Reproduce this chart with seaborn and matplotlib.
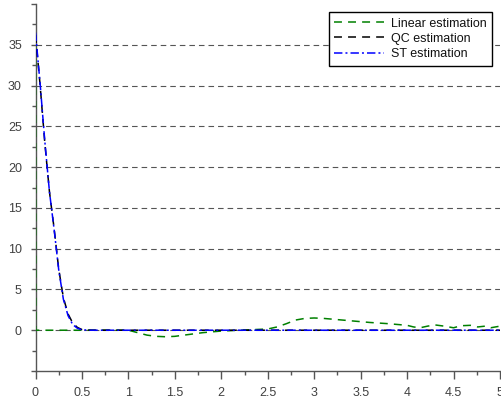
import matplotlib
matplotlib.use("Agg")
import matplotlib.pyplot as plt
import seaborn as sns
from matplotlib.ticker import MultipleLocator, FuncFormatter

sns.set_style("white")
plt.rcParams['font.family'] = ['Liberation Sans', 'DejaVu Sans']

# QC / ST estimation (fast decay)
qc_x = [0.0, 0.05, 0.1, 0.15, 0.2, 0.25, 0.3, 0.35, 0.4, 0.45, 0.5, 0.6, 1.0, 2.0, 3.0, 4.0, 5.0]
qc_y = [36.2, 30.0, 23.0, 17.0, 12.5, 7.5, 4.0, 2.0, 0.9, 0.35, 0.08, 0.0, 0.0, 0.0, 0.0, 0.0, 0.0]
st_x = [0.0, 0.05, 0.1, 0.15, 0.2, 0.25, 0.3, 0.35, 0.4, 0.45, 0.5, 0.6, 1.0, 2.0, 3.0, 4.0, 5.0]
st_y = [36.5, 30.2, 23.2, 17.0, 12.4, 7.4, 3.8, 1.8, 0.7, 0.25, 0.05, 0.0, 0.0, 0.0, 0.0, 0.0, 0.0]

# Linear estimation
lin_x = [0.0, 0.002, 0.5, 1.0, 1.1, 1.2, 1.3, 1.4, 1.5, 1.6, 1.7, 1.8, 1.9, 2.0, 2.2, 2.4,
         2.5, 2.6, 2.7, 2.8, 2.9, 3.0, 3.1, 3.2, 3.4, 3.6, 3.8, 4.0, 4.07, 4.14, 4.22, 4.3,
         4.4, 4.5, 4.58, 4.68, 4.76, 4.84, 4.9, 5.0]
lin_y = [35.0, 0.0, 0.0, 0.0, -0.3, -0.6, -0.75, -0.8, -0.75, -0.6, -0.45, -0.3, -0.2, -0.1, 0.0, 0.1,
         0.15, 0.4, 0.8, 1.25, 1.45, 1.5, 1.45, 1.35, 1.15, 0.95, 0.8, 0.6, 0.4, 0.3, 0.5, 0.65,
         0.5, 0.3, 0.55, 0.6, 0.4, 0.5, 0.3, 0.5]

fig = plt.figure(figsize=(5.02, 4.05), dpi=100)
ax = fig.add_axes([35.5/502, 34/405, 464.5/502, 367/405])

sns.lineplot(x=lin_x, y=lin_y, ax=ax, color='#008000', linewidth=1.1,
             estimator=None, sort=False, label='Linear estimation', zorder=3)
ax.lines[-1].set_dashes([5.2, 4.0])
sns.lineplot(x=qc_x, y=qc_y, ax=ax, color='black', linewidth=1.1,
             estimator=None, sort=False, label='QC estimation', zorder=3)
ax.lines[-1].set_dashes([5.2, 4.0])
sns.lineplot(x=st_x, y=st_y, ax=ax, color='#0000ff', linewidth=1.1,
             estimator=None, sort=False, label='ST estimation', zorder=3)
ax.lines[-1].set_dashes([5.5, 2, 1.3, 2])

ax.set_xlim(0, 5)
ax.set_ylim(-5, 40)
ax.xaxis.set_major_locator(MultipleLocator(0.5))
ax.xaxis.set_minor_locator(MultipleLocator(0.25))
ax.yaxis.set_major_locator(MultipleLocator(5))
ax.yaxis.set_minor_locator(MultipleLocator(2.5))
ax.xaxis.set_major_formatter(FuncFormatter(lambda v, p: '%g' % v))
ax.yaxis.set_major_formatter(FuncFormatter(lambda v, p: '' if v in (-5, 40) else '%g' % v))

for s in ['top', 'right']:
    ax.spines[s].set_visible(False)
for s in ['left', 'bottom']:
    ax.spines[s].set_color('#555555')
    ax.spines[s].set_linewidth(1.0)

ax.tick_params(axis='y', which='major', direction='out', length=3.8, width=1, color='#555555',
               labelsize=9, labelcolor='#404040', left=True, pad=6)
ax.tick_params(axis='y', which='minor', direction='out', length=3, width=1, color='#555555', left=True)
ax.tick_params(axis='x', which='major', direction='out', length=5.8, width=1, color='#555555',
               labelsize=9, labelcolor='#404040', bottom=True, pad=5.5)
ax.tick_params(axis='x', which='minor', direction='out', length=3, width=1, color='#555555', bottom=True)

for v in range(0, 40, 5):
    ax.axhline(v, color='#555555', linewidth=0.8, linestyle=(0, (5, 3.6)), zorder=0)

leg = ax.legend(loc='upper right', bbox_to_anchor=(0.983, 0.978), fontsize=9,
                frameon=True, fancybox=False, borderpad=0.45, labelspacing=0.25,
                handlelength=4.0, handletextpad=0.5, borderaxespad=0)
leg.get_frame().set_edgecolor('black')
leg.get_frame().set_linewidth(1.0)
leg.get_frame().set_alpha(1)
leg.set_zorder(5)
for t in leg.get_texts():
    t.set_color('#111111')

fig.savefig('out.png', dpi=100)
